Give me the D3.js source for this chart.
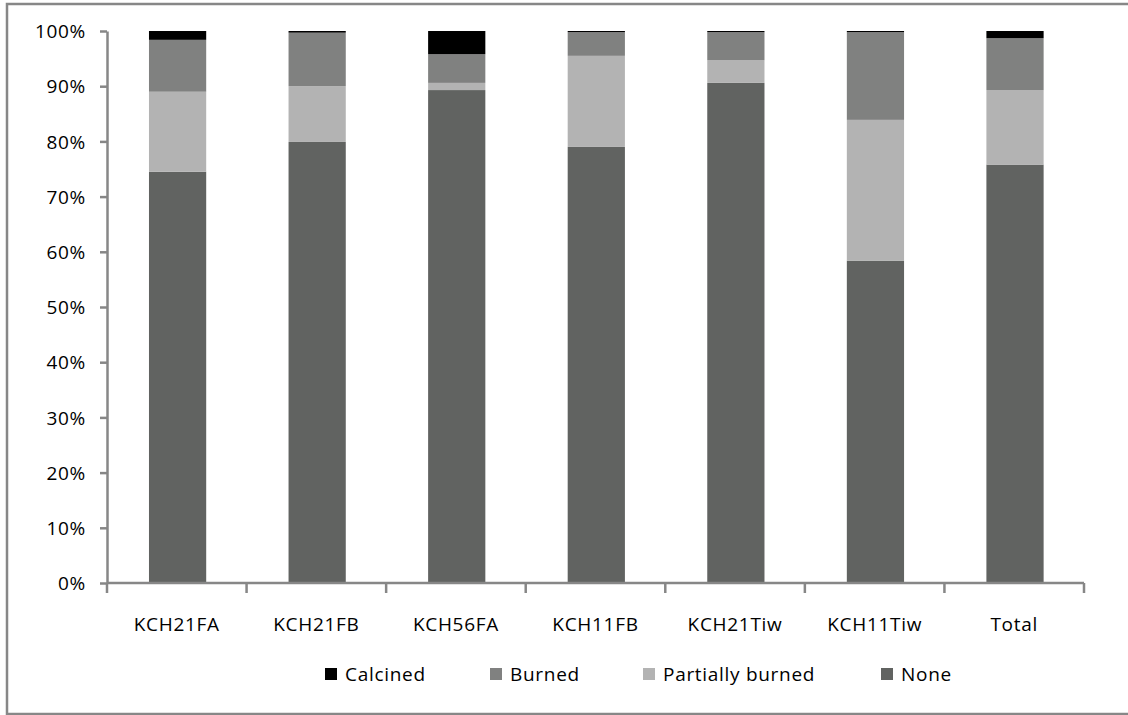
<!DOCTYPE html>
<html>
<head>
<meta charset="utf-8">
<script src="https://cdn.jsdelivr.net/npm/d3@7"></script>
<style>
  html, body { margin: 0; padding: 0; background: #fff; }
  svg text { font-family: "Open Sans", "Liberation Sans", sans-serif; fill: #000; letter-spacing: 0.7px; }
</style>
</head>
<body>
<svg id="chart" width="1128" height="715"></svg>
<script>
// Sample sites (x categories)
const categories = ["KCH21FA", "KCH21FB", "KCH56FA", "KCH11FB", "KCH21Tiw", "KCH11Tiw", "Total"];

// Percentage of specimens in each burning stage, per site
const none        = [74.5, 79.9, 89.3, 79.0, 90.6, 58.4, 75.8];
const partially   = [14.5, 10.1,  1.3, 16.5,  4.1, 25.5, 13.5];
const burned      = [ 9.4,  9.7,  5.2,  4.3,  5.1, 15.9,  9.4];
const calcined    = [ 1.6,  0.3,  4.2,  0.2,  0.2,  0.2,  1.3];

// Stack order bottom -> top
const seriesNames  = ["None", "Partially burned", "Burned", "Calcined"];
const seriesValues = [none, partially, burned, calcined];
const seriesColors = ["#616361", "#b3b3b3", "#808180", "#000000"];

// Legend order
const legendOrder = ["Calcined", "Burned", "Partially burned", "None"];

const yTicks = [0, 10, 20, 30, 40, 50, 60, 70, 80, 90, 100];

const svg = d3.select("#chart");
const axisColor = "#878787";
const fontSize = 19;

// Outer chart border
svg.append("rect")
  .attr("x", 7).attr("y", 4)
  .attr("width", 1135).attr("height", 710)
  .attr("fill", "none")
  .attr("stroke", axisColor)
  .attr("stroke-width", 2.5);

const plot = { left: 107, right: 1084, top: 31, bottom: 583 };

const x = d3.scaleBand()
  .domain(categories)
  .range([plot.left, plot.right])
  .padding(0);

const y = d3.scaleLinear()
  .domain([0, 100])
  .range([plot.bottom, plot.top]);

// Build stacked rows
const rows = categories.map((c, i) => {
  const r = { cat: c };
  seriesNames.forEach((s, k) => { r[s] = seriesValues[k][i]; });
  return r;
});
const stacked = d3.stack().keys(seriesNames)(rows);

const barW = x.bandwidth() * 0.41;

svg.append("g")
  .selectAll("g")
  .data(stacked)
  .join("g")
  .attr("fill", (d, i) => seriesColors[i])
  .selectAll("rect")
  .data(d => d)
  .join("rect")
  .attr("x", d => x(d.data.cat) + x.bandwidth() / 2 - barW / 2 + 0.8)
  .attr("width", barW)
  .attr("y", d => y(d[1]))
  .attr("height", d => y(d[0]) - y(d[1]));

// Y axis
const yAxis = d3.axisLeft(y)
  .tickValues(yTicks)
  .tickFormat(d => d + "%")
  .tickSize(7)
  .tickSizeOuter(0)
  .tickPadding(14);

const gy = svg.append("g")
  .attr("transform", `translate(${plot.left},0)`)
  .call(yAxis);
gy.select(".domain").attr("stroke", axisColor).attr("stroke-width", 2.5);
gy.selectAll(".tick line").attr("stroke", axisColor).attr("stroke-width", 2.5);
gy.selectAll(".tick text")
  .attr("font-size", fontSize)
  .attr("dy", "0.35em");

// X axis: ticks at category boundaries
const gx = svg.append("g")
  .attr("transform", `translate(0,${plot.bottom})`);
gx.append("line")
  .attr("x1", plot.left).attr("x2", plot.right)
  .attr("stroke", axisColor).attr("stroke-width", 2.5);
const boundaries = categories.map(c => x(c)).concat([plot.right]);
gx.selectAll("line.tk")
  .data(boundaries)
  .join("line")
  .attr("class", "tk")
  .attr("x1", d => d).attr("x2", d => d)
  .attr("y1", 0).attr("y2", 10)
  .attr("stroke", axisColor).attr("stroke-width", 2.5);
gx.selectAll("text")
  .data(categories)
  .join("text")
  .attr("x", d => x(d) + x.bandwidth() / 2)
  .attr("y", 48)
  .attr("text-anchor", "middle")
  .attr("font-size", fontSize)
  .text(d => d);

// Legend
const legendX = [325, 490, 643, 881];
const lg = svg.append("g");
legendOrder.forEach((name, i) => {
  const k = seriesNames.indexOf(name);
  lg.append("rect")
    .attr("x", legendX[i]).attr("y", 668)
    .attr("width", 12).attr("height", 12)
    .attr("fill", seriesColors[k]);
  lg.append("text")
    .attr("x", legendX[i] + 20).attr("y", 681)
    .attr("font-size", fontSize)
    .text(name);
});
</script>
</body>
</html>
